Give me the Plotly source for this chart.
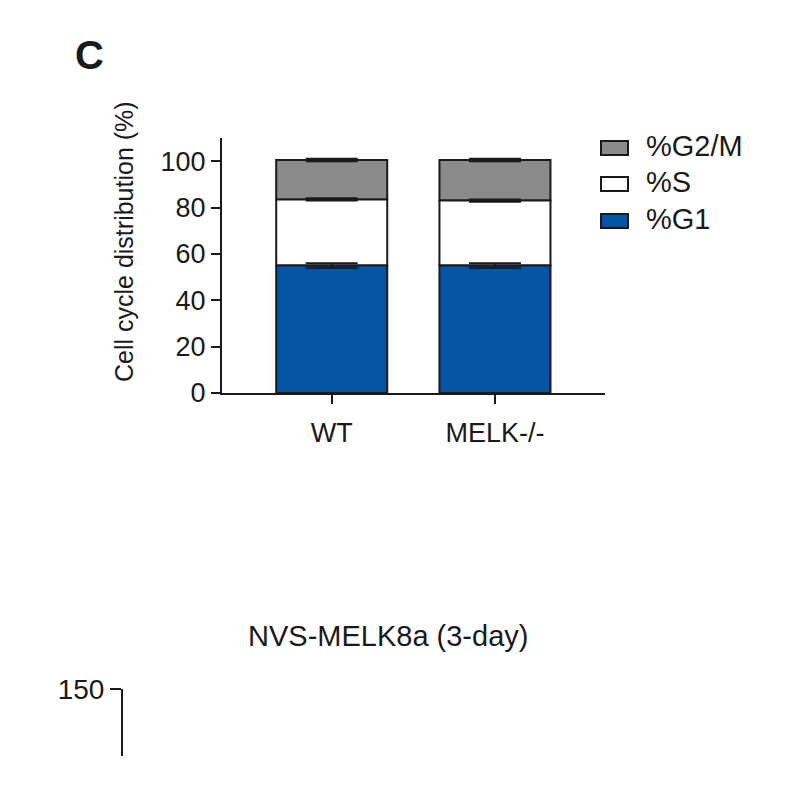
import plotly.graph_objects as go

# Daten
groups = ["WT", "MELK-/-"]
g1 = [55, 55]
s_phase = [28.5, 28]
g2m = [17, 17.5]
g1_err = [1, 1]
s_err = [0.5, 0.5]
g2m_err = [0.5, 0.5]

y_ticks = [0, 20, 40, 60, 80, 100]
legend_names = ["%G2/M", "%S", "%G1"]
legend_colors = ["#8a8a8a", "#ffffff", "#0555a6"]

font_name = "Liberation Sans, Arial, sans-serif"
ink = "#1a1a1a"

# Seite hat 8px Rand, also alles um 8px verschieben
def px_x(p):
    return (p - 8) / 800

def px_y(p):
    return 1 - (p - 8) / 800

# Basis der Stapel aus den Daten
base_s = list(g1)
base_g2m = [a + b for a, b in zip(g1, s_phase)]

fig = go.Figure()

# von oben nach unten zeichnen, damit die Fehlerbalken sichtbar bleiben
for vals, base, errs, name, col in [(g2m, base_g2m, g2m_err, "%G2/M", "#8a8a8a"),
                                    (s_phase, base_s, s_err, "%S", "#ffffff"),
                                    (g1, [0, 0], g1_err, "%G1", "#0555a6")]:
    fig.add_trace(go.Bar(
        x=groups, y=vals, base=base, name=name, width=0.68,
        marker=dict(color=col, line=dict(color=ink, width=2)),
        error_y=dict(type="data", array=errs, visible=True,
                     color=ink, thickness=2, width=26),
        showlegend=False,
    ))

# leere Achse unten (zweites Panel, abgeschnitten)
fig.add_trace(go.Scatter(x=[0], y=[100], xaxis="x2", yaxis="y2",
                         mode="markers", marker=dict(opacity=0),
                         showlegend=False, hoverinfo="skip"))

fig.update_layout(
    width=800, height=800,
    margin=dict(l=0, r=0, t=0, b=0, autoexpand=False),
    paper_bgcolor="white", plot_bgcolor="white",
    barmode="overlay",
    font=dict(family=font_name, color=ink, size=26),
    xaxis=dict(domain=[px_x(222), px_x(605)], range=[-0.672, 1.674],
               showline=True, linecolor=ink, linewidth=2,
               ticks="outside", ticklen=9, tickwidth=2, tickcolor=ink,
               ticklabelstandoff=6,
               showgrid=False, zeroline=False, tickfont=dict(size=27),
               anchor="y", automargin=False),
    yaxis=dict(domain=[px_y(393), px_y(138)], range=[0, 110],
               tickvals=y_ticks, showline=True, linecolor=ink, linewidth=2,
               ticks="outside", ticklen=9, tickwidth=2, tickcolor=ink,
               showgrid=False, zeroline=False, tickfont=dict(size=27),
               anchor="x", automargin=False),
    xaxis2=dict(domain=[px_x(123), px_x(700)], range=[0, 1], visible=False,
                anchor="y2", automargin=False),
    yaxis2=dict(domain=[px_y(756), px_y(689)], range=[100, 150],
                tickvals=[150], showline=True, linecolor=ink, linewidth=2,
                ticks="outside", ticklen=11, tickwidth=2, tickcolor=ink,
                showgrid=False, zeroline=False, tickfont=dict(size=28),
                anchor="x2", automargin=False),
)

annos = [
    dict(text="<b>C</b>", x=px_x(89), y=px_y(55), font=dict(size=40)),
    dict(text="Cell cycle distribution (%)", x=px_x(124), y=px_y(241),
         textangle=-90, font=dict(size=25)),
    dict(text="NVS-MELK8a (3-day)", x=px_x(388), y=px_y(636),
         font=dict(size=29)),
]

# Legende von Hand
shapes = []
row_y = [148, 184, 221]
for name, col, ry in zip(legend_names, legend_colors, row_y):
    shapes.append(dict(type="rect", xref="paper", yref="paper",
                       x0=px_x(601), x1=px_x(628),
                       y0=px_y(ry + 7), y1=px_y(ry - 7),
                       fillcolor=col, line=dict(color=ink, width=2)))
    annos.append(dict(text=name, x=px_x(644), y=px_y(ry - 2),
                      xanchor="left", font=dict(size=29)))

for a in annos:
    a.setdefault("xanchor", "center")
    a.update(xref="paper", yref="paper", yanchor="middle", showarrow=False)

fig.update_layout(annotations=annos, shapes=shapes)

fig.write_html("out.html")
